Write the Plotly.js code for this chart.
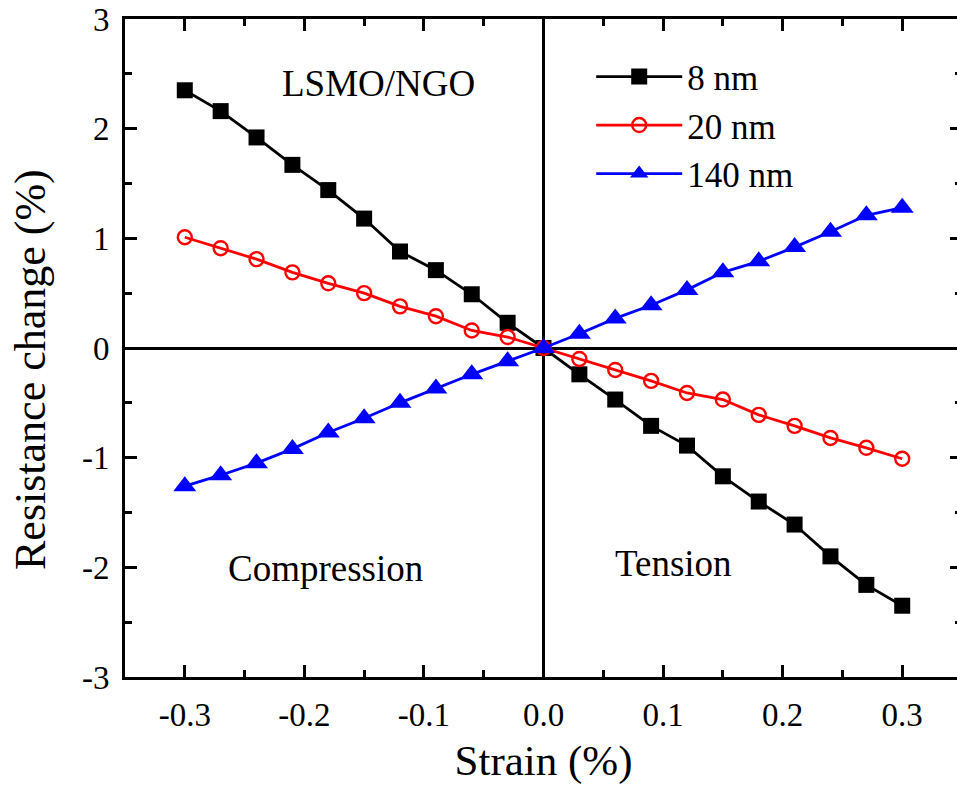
<!DOCTYPE html>
<html>
<head>
<meta charset="utf-8">
<script src="https://cdn.plot.ly/plotly-3.0.1.min.js"></script>
<style>
  html, body { margin: 0; padding: 0; overflow: hidden; background: #fff; }
  #chart { width: 970px; height: 785px; }
</style>
</head>
<body>
<div id="chart"></div>
<script>
// Strain values (%), applied in steps of 0.03 from compression to tension
const strain = [-0.30, -0.27, -0.24, -0.21, -0.18, -0.15, -0.12, -0.09, -0.06, -0.03, 0.00,
                 0.03,  0.06,  0.09,  0.12,  0.15,  0.18,  0.21,  0.24,  0.27, 0.30];

// Resistance change (%) for each film thickness
const film8nm = [2.35, 2.16, 1.92, 1.67, 1.44, 1.18, 0.88, 0.71, 0.49, 0.23, 0.00,
                 -0.24, -0.47, -0.71, -0.89, -1.17, -1.40, -1.61, -1.90, -2.16, -2.35];
const film20nm = [1.01, 0.91, 0.81, 0.69, 0.59, 0.50, 0.38, 0.29, 0.16, 0.10, 0.00,
                  -0.10, -0.20, -0.30, -0.41, -0.47, -0.61, -0.71, -0.82, -0.91, -1.01];
const film140nm = [-1.26, -1.16, -1.05, -0.92, -0.77, -0.64, -0.50, -0.37, -0.24, -0.12, 0.00,
                   0.13, 0.27, 0.39, 0.53, 0.69, 0.79, 0.92, 1.06, 1.21, 1.28];

const seriesNames = ['8 nm', '20 nm', '140 nm'];

// Tick positions and labels (plain hyphen minus signs)
const xTickVals = [-0.3, -0.2, -0.1, 0.0, 0.1, 0.2, 0.3];
const xTickText = ['-0.3', '-0.2', '-0.1', '0.0', '0.1', '0.2', '0.3'];
const yTickVals = [-3, -2, -1, 0, 1, 2, 3];
const yTickText = ['-3', '-2', '-1', '0', '1', '2', '3'];

const FONT = 'Liberation Serif, Times New Roman, serif';

const traces = [
  {
    x: strain, y: film8nm, name: seriesNames[0], type: 'scatter', mode: 'lines+markers',
    line: { color: '#000000', width: 2.8 },
    marker: { symbol: 'square', size: 16, color: '#000000' }
  },
  {
    x: strain, y: film20nm, name: seriesNames[1], type: 'scatter', mode: 'lines+markers',
    line: { color: '#ff0000', width: 2.8 },
    marker: { symbol: 'circle-open', size: 14, color: '#ff0000', line: { width: 2.4, color: '#ff0000' } }
  },
  {
    x: strain, y: film140nm, name: seriesNames[2], type: 'scatter', mode: 'lines+markers',
    line: { color: '#0000ff', width: 2.8 },
    marker: { symbol: 'triangle-up', size: 20, color: '#0000ff' }
  }
];

const axisCommon = {
  showline: true, linecolor: '#000', linewidth: 3, mirror: 'ticks',
  ticks: 'inside', ticklen: 12, tickwidth: 3, tickcolor: '#000',
  showgrid: false, zeroline: true, zerolinecolor: '#000', zerolinewidth: 3,
  tickfont: { family: FONT, size: 33, color: '#000' },
  tickmode: 'array'
};

const layout = {
  width: 970, height: 785,
  margin: { l: 125, r: 8, t: 19, b: 108 },
  paper_bgcolor: '#fff', plot_bgcolor: '#fff',
  font: { family: FONT, color: '#000' },
  showlegend: true,
  legend: {
    x: 0.557, y: 0.957, xanchor: 'left', yanchor: 'top',
    bgcolor: 'rgba(0,0,0,0)', borderwidth: 0,
    font: { family: FONT, size: 35, color: '#000' },
    itemwidth: 86
  },
  xaxis: Object.assign({}, axisCommon, {
    range: [-0.35, 0.35],
    tickvals: xTickVals, ticktext: xTickText,
    minor: { dtick: 0.05, tick0: 0, ticks: 'inside', ticklen: 7, tickwidth: 3, tickcolor: '#000' },
    ticklabelstandoff: 6,
    title: { text: 'Strain (%)', font: { family: FONT, size: 43, color: '#000' }, standoff: 16 }
  }),
  yaxis: Object.assign({}, axisCommon, {
    range: [-3, 3],
    tickvals: yTickVals, ticktext: yTickText,
    minor: { dtick: 0.5, tick0: 0, ticks: 'inside', ticklen: 7, tickwidth: 3, tickcolor: '#000' },
    ticklabelstandoff: 6
  }),
  annotations: [
    {
      text: 'Resistance change (%)', textangle: -90, showarrow: false,
      xref: 'paper', yref: 'paper', x: (30 - 125) / 837, y: (677 - 370) / 658,
      xanchor: 'center', yanchor: 'middle',
      font: { family: FONT, size: 44, color: '#000' }
    },
    {
      text: 'LSMO/NGO', showarrow: false, xref: 'paper', yref: 'paper',
      x: (378 - 125) / 837, y: (677 - 83) / 658, xanchor: 'center', yanchor: 'middle',
      font: { family: FONT, size: 37, color: '#000' }
    },
    {
      text: 'Compression', showarrow: false, xref: 'paper', yref: 'paper',
      x: (325 - 125) / 837, y: (677 - 568) / 658, xanchor: 'center', yanchor: 'middle',
      font: { family: FONT, size: 37, color: '#000' }
    },
    {
      text: 'Tension', showarrow: false, xref: 'paper', yref: 'paper',
      x: (673 - 125) / 837, y: (677 - 563) / 658, xanchor: 'center', yanchor: 'middle',
      font: { family: FONT, size: 37, color: '#000' }
    }
  ]
};

Plotly.newPlot('chart', traces, layout, { displayModeBar: false, staticPlot: true });
</script>
</body>
</html>
